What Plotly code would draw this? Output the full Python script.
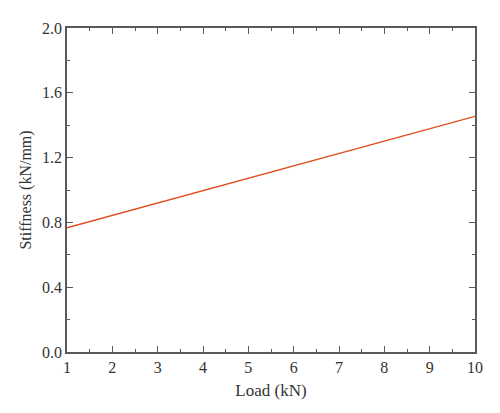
import plotly.graph_objects as go

# load (kN) and stiffness (kN/mm)
load = [1, 2, 3, 4, 5, 6, 7, 8, 9, 10]
stiffness = [0.767, 0.843, 0.920, 0.996, 1.073, 1.149, 1.226, 1.302, 1.379, 1.455]

x_ticks = [1, 2, 3, 4, 5, 6, 7, 8, 9, 10]
y_ticks = [0.0, 0.4, 0.8, 1.2, 1.6, 2.0]
y_tick_text = ["0.0", "0.4", "0.8", "1.2", "1.6", "2.0"]

axis_col = "#5a5a5a"
font_fam = "Liberation Serif"

fig = go.Figure()
fig.add_trace(go.Scatter(x=load, y=stiffness, mode="lines",
                         line=dict(color="#e04c1c", width=1.3),
                         showlegend=False))

common = dict(showgrid=False, zeroline=False, showline=True, linecolor=axis_col,
              linewidth=1.5, mirror="ticks", ticks="inside", ticklen=6,
              tickwidth=1.2, tickcolor=axis_col,
              tickfont=dict(family=font_fam, size=16, color="#333333"),
              minor=dict(ticks="inside", ticklen=3, tickwidth=1.2, tickcolor=axis_col))

fig.update_xaxes(range=[1, 10], tickvals=x_ticks, title_text="Load (kN)",
                 title_font=dict(family=font_fam, size=17, color="#333333"),
                 title_standoff=9, minor_dtick=0.5, **common)
fig.update_yaxes(range=[0, 2.0], tickvals=y_ticks, ticktext=y_tick_text,
                 title_text="Stiffness (kN/mm)",
                 title_font=dict(family=font_fam, size=16, color="#333333"),
                 title_standoff=6, minor_dtick=0.2, **common)

# page adds an 8px body margin, so the figure is drawn a bit smaller
fig.update_layout(width=492, height=405, plot_bgcolor="white", paper_bgcolor="white",
                  margin=dict(l=59, r=25, t=16, b=61))

fig.write_html("out.html")
